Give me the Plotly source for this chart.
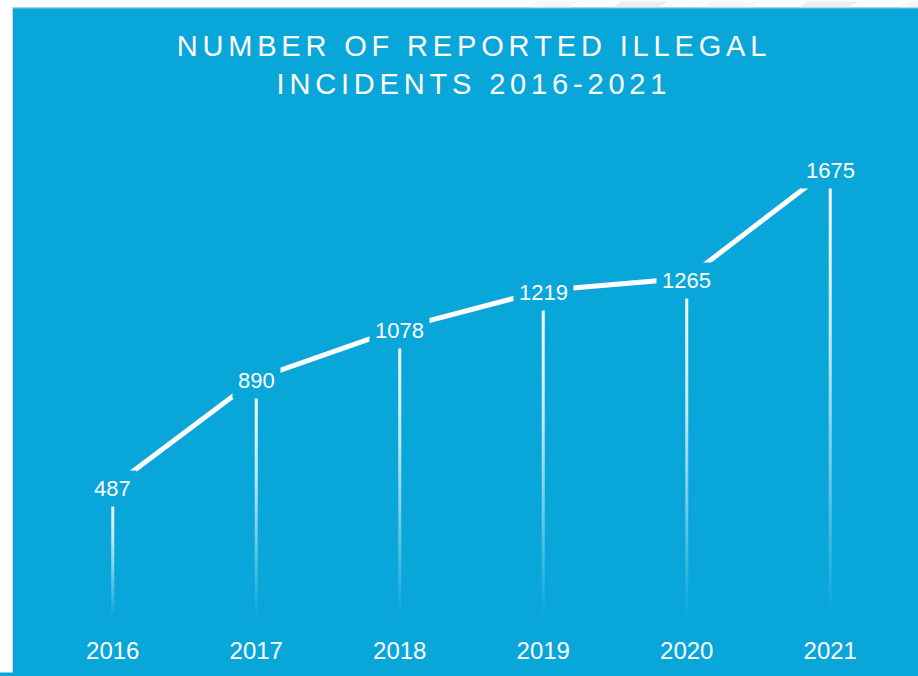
import plotly.graph_objects as go

# ---- data ----
years = [2016, 2017, 2018, 2019, 2020, 2021]
year_labels = ["2016", "2017", "2018", "2019", "2020", "2021"]
incidents = [487, 890, 1078, 1219, 1265, 1675]
title_lines = ["NUMBER OF REPORTED ILLEGAL", "INCIDENTS 2016-2021"]

# ---- style ----
W, H = 918, 676
MARGIN = dict(l=41, r=16, t=135, b=54)
BLUE = "#09A6DA"
BORDER = "#D6D9DC"
FONT = "Liberation Sans, Arial, Helvetica, sans-serif"
STEM_HALF_WIDTH = 0.0105  # in year units, gives a ~3px stem
Y_MAX = 1800

plot_w = W - MARGIN["l"] - MARGIN["r"]
plot_h = H - MARGIN["t"] - MARGIN["b"]


def px_x(px):
    return (px - MARGIN["l"]) / plot_w


def px_y(py):
    return (H - MARGIN["b"] - py) / plot_h


def tracked(text, gap="\u2006"):
    """Widen letter spacing by inserting a narrow space between characters."""
    return gap.join(text)


fig = go.Figure()

# vertical stems fading towards the baseline
for yr, v in zip(years, incidents):
    fig.add_trace(go.Scatter(
        x=[yr - STEM_HALF_WIDTH, yr + STEM_HALF_WIDTH, yr + STEM_HALF_WIDTH, yr - STEM_HALF_WIDTH],
        y=[0, 0, v, v],
        mode="none",
        fill="toself",
        fillgradient=dict(
            type="vertical",
            colorscale=[[0, "rgba(255,255,255,0)"], [0.6, "rgba(255,255,255,0.75)"],
                        [1, "rgba(255,255,255,1)"]],
        ),
        hoverinfo="skip",
        showlegend=False,
    ))

# trend line
fig.add_trace(go.Scatter(
    x=years, y=incidents,
    mode="lines",
    line=dict(color="white", width=5),
    hoverinfo="skip",
    showlegend=False,
))

# value labels, boxed in the background colour so the line breaks around them
annotations = []
for yr, v in zip(years, incidents):
    annotations.append(dict(
        x=yr, y=v, xref="x", yref="y",
        text=str(v),
        showarrow=False,
        font=dict(family=FONT, size=22, color="white"),
        bgcolor=BLUE,
        borderpad=5,
        yshift=-2,
    ))

# white margin strips (left and top) with a thin grey edge against the panel
shapes = [
    dict(type="rect", xref="paper", yref="paper", layer="below",
         x0=px_x(-2), x1=px_x(12), y0=px_y(H + 2), y1=px_y(-2),
         fillcolor="white", line=dict(width=0)),
    dict(type="rect", xref="paper", yref="paper", layer="below",
         x0=px_x(-2), x1=px_x(W + 2), y0=px_y(6), y1=px_y(-2),
         fillcolor="white", line=dict(width=0)),
    dict(type="line", xref="paper", yref="paper", layer="below",
         x0=px_x(12.5), x1=px_x(12.5), y0=px_y(6), y1=px_y(H + 2),
         line=dict(color=BORDER, width=1)),
    dict(type="line", xref="paper", yref="paper", layer="below",
         x0=px_x(12), x1=px_x(W + 2), y0=px_y(6.5), y1=px_y(6.5),
         line=dict(color=BORDER, width=1)),
]

# faint diagonal stripes along the top strip
stripe_specs = [(530, 40, "#F4F6F8"), (613, 47, "#EBEEF1"), (703, 47, "#F4F6F8"),
                (800, 50, "#EBEEF1"), (900, 40, "#F4F6F8")]
for left, width, col in stripe_specs:
    x_bl, x_br = left, left + width
    path = "M {} {} L {} {} L {} {} L {} {} Z".format(
        px_x(x_bl), px_y(6), px_x(x_br), px_y(6),
        px_x(x_br + 8), px_y(0), px_x(x_bl + 8), px_y(0))
    shapes.append(dict(type="path", xref="paper", yref="paper", layer="below",
                       path=path, fillcolor=col, line=dict(width=0)))

fig.update_layout(
    width=W, height=H,
    margin=MARGIN,
    paper_bgcolor=BLUE,
    plot_bgcolor="rgba(0,0,0,0)",
    font=dict(family=FONT, color="white"),
    title=dict(
        text="<br>".join(tracked(line) for line in title_lines),
        x=0.5, xref="paper", xanchor="center",
        y=1 - 56 / H, yref="container", yanchor="middle",
        font=dict(family=FONT, size=29, color="white"),
    ),
    xaxis=dict(
        range=[2015.5, 2021.5],
        tickvals=years, ticktext=year_labels,
        tickfont=dict(family=FONT, size=24, color="white"),
        ticks="outside", ticklen=12, tickcolor="rgba(0,0,0,0)",
        showgrid=False, zeroline=False, showline=False, fixedrange=True,
    ),
    yaxis=dict(range=[0, Y_MAX], visible=False, fixedrange=True),
    shapes=shapes,
    annotations=annotations,
    showlegend=False,
)

fig.write_html("out.html")
